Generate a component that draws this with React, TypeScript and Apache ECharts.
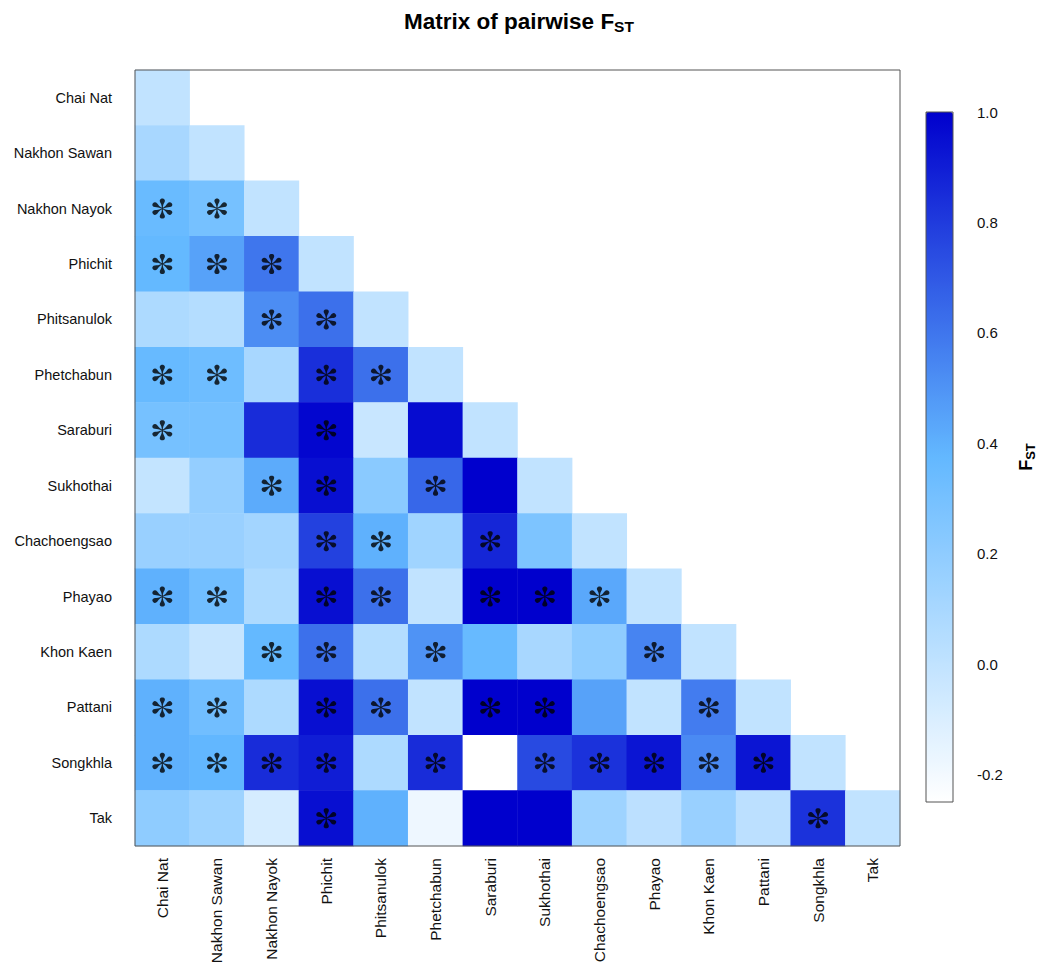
import React, { useEffect, useRef } from 'react';
import * as echarts from 'echarts';

// Sampled populations, in matrix order (rows top to bottom, columns left to right)
const populations = [
  'Chai Nat',
  'Nakhon Sawan',
  'Nakhon Nayok',
  'Phichit',
  'Phitsanulok',
  'Phetchabun',
  'Saraburi',
  'Sukhothai',
  'Chachoengsao',
  'Phayao',
  'Khon Kaen',
  'Pattani',
  'Songkhla',
  'Tak',
];

// Lower triangle of pairwise FST (row i holds columns 0..i, diagonal included)
const fstRows: number[][] = [
  [0.0],
  [0.1, 0.0],
  [0.35, 0.3, 0.0],
  [0.37, 0.45, 0.6, 0.0],
  [0.08, 0.05, 0.52, 0.62, 0.0],
  [0.36, 0.33, 0.1, 0.84, 0.62, 0.0],
  [0.3, 0.3, 0.85, 0.98, -0.03, 0.96, 0.0],
  [-0.01, 0.18, 0.42, 0.95, 0.22, 0.65, 1.0, 0.0],
  [0.16, 0.16, 0.12, 0.78, 0.4, 0.13, 0.87, 0.27, 0.0],
  [0.4, 0.32, 0.08, 0.95, 0.62, 0.0, 1.0, 1.0, 0.43, 0.0],
  [0.08, -0.02, 0.37, 0.62, 0.05, 0.5, 0.36, 0.1, 0.2, 0.55, 0.0],
  [0.4, 0.32, 0.08, 0.95, 0.62, 0.0, 1.0, 1.0, 0.45, 0.0, 0.58, 0.0],
  [0.4, 0.38, 0.85, 0.9, 0.08, 0.85, -0.25, 0.75, 0.83, 0.93, 0.53, 0.93, 0.0],
  [0.2, 0.14, -0.08, 0.95, 0.4, -0.18, 1.0, 1.0, 0.14, 0.02, 0.16, 0.02, 0.83, 0.0],
];

// Significance of each pair (1 = significant, marked with an asterisk)
const sigRows: number[][] = [
  [0],
  [0, 0],
  [1, 1, 0],
  [1, 1, 1, 0],
  [0, 0, 1, 1, 0],
  [1, 1, 0, 1, 1, 0],
  [1, 0, 0, 1, 0, 0, 0],
  [0, 0, 1, 1, 0, 1, 0, 0],
  [0, 0, 0, 1, 1, 0, 1, 0, 0],
  [1, 1, 0, 1, 1, 0, 1, 1, 1, 0],
  [0, 0, 1, 1, 0, 1, 0, 0, 0, 1, 0],
  [1, 1, 0, 1, 1, 0, 1, 1, 0, 0, 1, 0],
  [1, 1, 1, 1, 0, 1, 0, 1, 1, 1, 1, 1, 0],
  [0, 0, 0, 1, 0, 0, 0, 0, 0, 0, 0, 0, 1, 0],
];

// Colour key
const scaleMin = -0.25;
const scaleMax = 1.0;
const keyTicks = [-0.2, 0.0, 0.2, 0.4, 0.6, 0.8, 1.0];
const palette = ['#ffffff', '#63b8ff', '#0000cd'];

// Six-armed asterisk with teardrop-shaped arms, as an SVG path for the symbol
function asteriskPath(): string {
  const arm: [number, number][] = [
    [0, -2], [10, -2.6], [18, -4.2], [25, -7], [31, -10], [37, -11.2],
    [42, -10], [45.5, -6.8], [47, -3], [47, 3], [45.5, 6.8], [42, 10],
    [37, 11.2], [31, 10], [25, 7], [18, 4.2], [10, 2.6], [0, 2],
  ];
  const angles = [-90, -30, 30, 90, 150, 210];
  let d = '';
  for (const a of angles) {
    const r = (a * Math.PI) / 180;
    const c = Math.cos(r);
    const s = Math.sin(r);
    arm.forEach(([u, v], k) => {
      const x = 50 + u * c - v * s;
      const y = 50 + u * s + v * c;
      d += `${k === 0 ? 'M' : 'L'}${x.toFixed(2)} ${y.toFixed(2)} `;
    });
    d += 'Z ';
  }
  return 'path://' + d.trim();
}

const FONT = '"Liberation Sans", Arial, Helvetica, sans-serif';

export default function App() {
  const ref = useRef<HTMLDivElement>(null);

  useEffect(() => {
    document.body.style.margin = '0';
    const chart = echarts.init(ref.current as HTMLDivElement, null, { renderer: 'svg' });

    const cells: [number, number, number][] = [];
    fstRows.forEach((row, i) => row.forEach((v, j) => cells.push([j, i, v])));

    const stars: [number, number][] = [];
    sigRows.forEach((row, i) =>
      row.forEach((s, j) => {
        if (s) stars.push([j, i]);
      })
    );

    chart.setOption({
      animation: false,
      backgroundColor: '#ffffff',
      title: {
        text: '{t|Matrix of pairwise F}{s|ST}',
        left: 'center',
        top: 8,
        padding: 0,
        textStyle: {
          rich: {
            t: { fontSize: 22.5, fontWeight: 'bold', fontFamily: FONT, color: '#000', lineHeight: 26 },
            s: {
              fontSize: 15.5,
              fontWeight: 'bold',
              fontFamily: FONT,
              color: '#000',
              lineHeight: 14,
              verticalAlign: 'bottom',
            },
          },
        },
      },
      grid: [
        {
          left: 135,
          top: 70,
          width: 765,
          height: 776,
          show: true,
          borderColor: '#555',
          borderWidth: 1,
          backgroundColor: 'transparent',
          z: 5,
        },
        {
          left: 926,
          top: 112,
          width: 27,
          height: 690,
          show: true,
          borderColor: '#555',
          borderWidth: 1,
          backgroundColor: 'transparent',
          z: 10,
        },
      ],
      xAxis: [
        {
          gridIndex: 0,
          type: 'category',
          data: populations,
          axisLine: { show: false },
          axisTick: { alignWithLabel: true, length: 11, lineStyle: { color: '#555' } },
          axisLabel: { rotate: 90, margin: 12, fontSize: 15.5, color: '#111', fontFamily: FONT, interval: 0 },
          splitLine: { show: false },
        },
        { gridIndex: 1, type: 'value', min: 0, max: 1, show: false },
      ],
      yAxis: [
        {
          gridIndex: 0,
          type: 'category',
          inverse: true,
          data: populations,
          axisLine: { show: false },
          axisTick: { alignWithLabel: true, length: 11, lineStyle: { color: '#555' } },
          axisLabel: { margin: 23, fontSize: 14.5, color: '#111', fontFamily: FONT, interval: 0 },
          splitLine: { show: false },
        },
        {
          gridIndex: 1,
          type: 'value',
          position: 'right',
          min: scaleMin,
          max: scaleMax,
          axisLine: { show: false },
          splitLine: { show: false },
          axisTick: { show: true, customValues: keyTicks, length: 13, lineStyle: { color: '#555' } },
          axisLabel: {
            customValues: keyTicks,
            formatter: (v: number) => v.toFixed(1),
            margin: 24,
            fontSize: 15,
            color: '#111',
            fontFamily: FONT,
          },
          name: '{f|F}{s|ST}',
          nameLocation: 'middle',
          nameRotate: 90,
          nameGap: 62,
          nameTextStyle: {
            rich: {
              f: { fontSize: 18, fontWeight: 'bold', fontFamily: FONT, color: '#000', lineHeight: 22 },
              s: {
                fontSize: 13,
                fontWeight: 'bold',
                fontFamily: FONT,
                color: '#000',
                lineHeight: 12,
                verticalAlign: 'bottom',
              },
            },
          },
        },
      ],
      visualMap: {
        type: 'continuous',
        seriesIndex: 0,
        dimension: 2,
        min: scaleMin,
        max: scaleMax,
        orient: 'vertical',
        left: 926,
        top: 112,
        itemWidth: 27,
        itemHeight: 690,
        padding: 0,
        calculable: false,
        hoverLink: false,
        showLabel: false,
        inRange: { color: palette },
      },
      series: [
        {
          type: 'heatmap',
          xAxisIndex: 0,
          yAxisIndex: 0,
          data: cells,
          itemStyle: { borderWidth: 0 },
          emphasis: { disabled: true },
          silent: true,
        },
        {
          type: 'scatter',
          xAxisIndex: 0,
          yAxisIndex: 0,
          data: stars,
          symbol: asteriskPath(),
          symbolSize: [20, 20],
          itemStyle: { color: '#000' },
          z: 4,
          silent: true,
        },
      ],
    });

    return () => chart.dispose();
  }, []);

  return <div ref={ref} style={{ width: 1038, height: 967 }} />;
}
